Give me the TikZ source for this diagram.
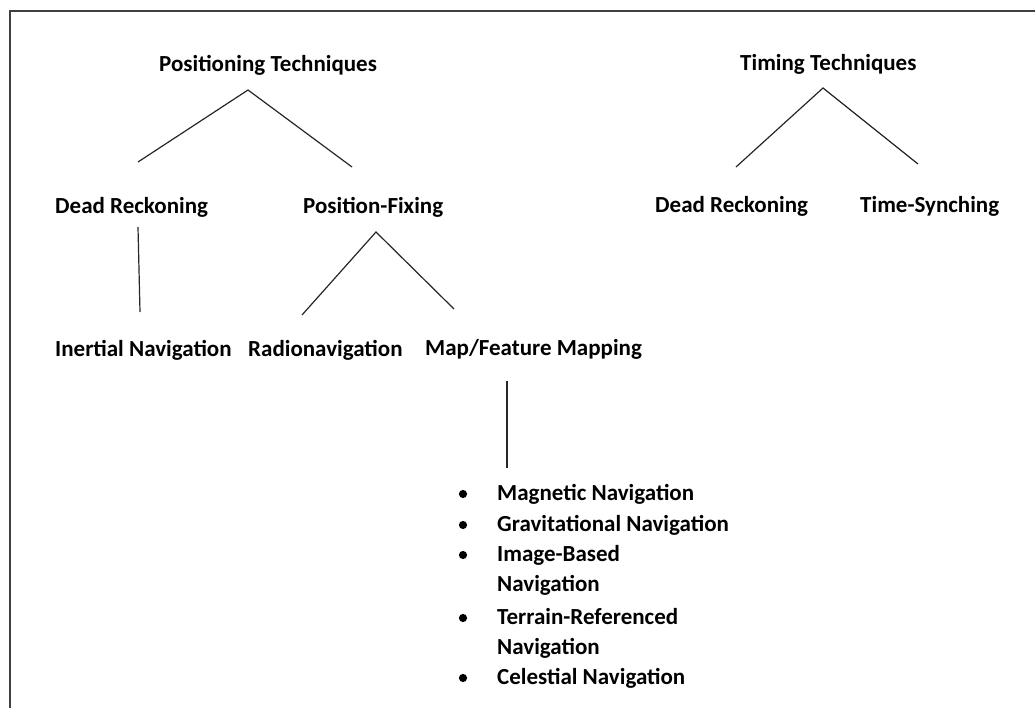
\documentclass[tikz,border=0pt]{standalone}
\usepackage{fontspec}
\setmainfont{Carlito}

\tikzset{
  lbl/.style={anchor=base west,inner sep=0pt,font=\fontsize{23}{27}\selectfont\bfseries,text=black},
  branch/.style={line width=1.2pt,black!85},
  frame/.style={line width=1.2pt,black!75}
}

\begin{document}
\begin{tikzpicture}[x=1pt,y=-1pt]
\useasboundingbox (0,0) rectangle (1035,708);
\draw[frame] (1035,11)--(10,11)--(10,708);

% positioning tree
\node[lbl] (pos) at (159,72) {Positioning Techniques};
\node[lbl] (dr) at (55,214) {Dead Reckoning};
\node[lbl] (pf) at (303,214) {Position-Fixing};
\node[lbl] (ins) at (55,356) {Inertial Navigation};
\node[lbl] (radio) at (248,356) {Radionavigation};
\node[lbl] (map) at (425,355) {Map/Feature Mapping};

\coordinate (posA) at (248,90);
\coordinate (posL) at (138,162);
\coordinate (posR) at (352,167);
\coordinate (drT) at (138,227);
\coordinate (drB) at (140,312);
\coordinate (pfA) at (376,232);
\coordinate (pfL) at (302,315);
\coordinate (pfR) at (454,309);
\coordinate (mapT) at (507,381);
\coordinate (mapB) at (507,468);

\draw[branch] (posL)--(posA)--(posR);
\draw[branch] (drT)--(drB);
\draw[branch] (pfL)--(pfA)--(pfR);
\draw[branch] (mapT)--(mapB);

% map/feature list
\foreach \y/\txt/\b in {500/Magnetic Navigation/1,531/Gravitational Navigation/1,
    561/Image-Based/1,591/Navigation/0,624/Terrain-Referenced/1,
    654/Navigation/0,684/Celestial Navigation/1}{
  \node[lbl] (item\y) at (497,\y) {\txt};
  \ifnum\b=1 \fill[black] (463,\y-6) circle (4.1pt);\fi
}

% timing tree
\node[lbl] (tim) at (740,71) {Timing Techniques};
\node[lbl] (dr2) at (655,213) {Dead Reckoning};
\node[lbl] (sync) at (860,213) {Time-Synching};

\coordinate (timA) at (823,88);
\coordinate (timL) at (736,167);
\coordinate (timR) at (918,164);
\draw[branch] (timL)--(timA)--(timR);

\end{tikzpicture}
\end{document}
